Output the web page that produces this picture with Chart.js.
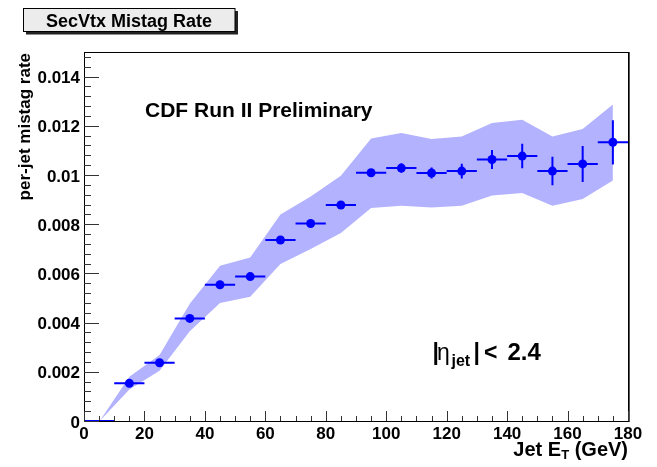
<!DOCTYPE html>
<html>
<head>
<meta charset="utf-8">
<script src="https://cdn.jsdelivr.net/npm/chart.js@4.4.1/dist/chart.umd.min.js"></script>
<style>
  html, body { margin: 0; padding: 0; background: #fff; }
  #wrap { width: 657px; height: 467px; }
</style>
</head>
<body>
<div id="wrap"><canvas id="c" width="657" height="467"></canvas></div>
<script>
// Jet E_T bin centres (GeV), each bin 10 GeV wide
const binCenters = [5, 15, 25, 35, 45, 55, 65, 75, 85, 95, 105, 115, 125, 135, 145, 155, 165, 175];
// measured per-jet mistag rate and its statistical error
const mistagRate = [0, 0.00153, 0.00237, 0.00417, 0.00554, 0.00587, 0.00736, 0.00803, 0.00878,
                    0.01009, 0.01028, 0.01008, 0.01016, 0.01063, 0.01077, 0.01016, 0.01045, 0.01133];
const rateError  = [0, 0.00005, 0.00006, 0.00007, 0.00007, 0.00008, 0.00008, 0.00009, 0.00010,
                    0.00012, 0.00019, 0.00022, 0.00030, 0.00039, 0.00050, 0.00058, 0.00073, 0.00090];
const binHalfWidth = 5;

// systematic uncertainty band
const bandX  = [5.2, 15, 25, 35, 45, 55, 65, 75, 85, 95, 105, 115, 125, 135, 145, 155, 165, 175];
const bandHi = [0, 0.00180, 0.00268, 0.00477, 0.00631, 0.00665, 0.00839, 0.00913, 0.00997,
                0.01148, 0.01171, 0.01146, 0.01157, 0.01211, 0.01225, 0.01157, 0.01187, 0.01287];
const bandLo = [0, 0.00128, 0.00204, 0.00365, 0.00480, 0.00505, 0.00638, 0.00699, 0.00764,
                0.00866, 0.00875, 0.00868, 0.00875, 0.00917, 0.00927, 0.00875, 0.00902, 0.00978];

// axis ticks
const xTicks = [0, 20, 40, 60, 80, 100, 120, 140, 160, 180];
const yTicks = [0, 0.002, 0.004, 0.006, 0.008, 0.01, 0.012, 0.014];
const yTickLabels = ['0', '0.002', '0.004', '0.006', '0.008', '0.01', '0.012', '0.014'];

const FONT = '"Liberation Sans", Arial, Helvetica, sans-serif';
const BLUE = '#0000ff';
const BAND = 'rgb(178,178,255)';

const toXY = (xs, ys) => xs.map((x, i) => ({ x: x, y: ys[i] }));

// error bars, frame and inward tick marks
const histDecor = {
  id: 'histDecor',
  afterDatasetsDraw(chart) {
    const ctx = chart.ctx;
    const xs = chart.scales.x, ys = chart.scales.y;
    const a = chart.chartArea;
    ctx.save();
    // error bars
    ctx.strokeStyle = BLUE;
    ctx.lineWidth = 2;
    binCenters.forEach((c, i) => {
      const py = ys.getPixelForValue(mistagRate[i]);
      ctx.beginPath();
      ctx.moveTo(xs.getPixelForValue(c - binHalfWidth), py);
      ctx.lineTo(xs.getPixelForValue(c + binHalfWidth), py);
      if (rateError[i] > 0) {
        const px = xs.getPixelForValue(c);
        ctx.moveTo(px, ys.getPixelForValue(mistagRate[i] - rateError[i]));
        ctx.lineTo(px, ys.getPixelForValue(mistagRate[i] + rateError[i]));
      }
      ctx.stroke();
    });
    // frame
    ctx.strokeStyle = '#000';
    ctx.lineWidth = 1;
    ctx.strokeRect(Math.round(a.left) + 0.5, Math.round(a.top) + 0.5,
                   Math.round(a.right - a.left), Math.round(a.bottom - a.top));
    ctx.strokeStyle = '#555';
    ctx.beginPath();
    ctx.moveTo(Math.round(a.right) + 1.5, a.top);
    ctx.lineTo(Math.round(a.right) + 1.5, a.bottom + 1);
    ctx.stroke();
    // ticks
    ctx.strokeStyle = '#333';
    ctx.beginPath();
    for (let v = 0; v <= 180 + 1e-9; v += 5) {
      const px = Math.round(xs.getPixelForValue(v)) + 0.5;
      const len = (Math.abs(v % 20) < 1e-9) ? 10 : 5;
      ctx.moveTo(px, a.bottom);
      ctx.lineTo(px, a.bottom - len);
    }
    for (let k = 0; k <= 37; k++) {
      const v = k * 0.0004;
      const py = Math.round(ys.getPixelForValue(v)) + 0.5;
      const len = (k % 5 === 0) ? 15 : 7;
      ctx.moveTo(a.left, py);
      ctx.lineTo(a.left + len, py);
    }
    ctx.stroke();
    ctx.restore();
  },
  afterDraw(chart) {
    const ctx = chart.ctx;
    ctx.save();
    // title box with shadow
    ctx.fillStyle = '#222';
    ctx.fillRect(26, 11, 212, 23.5);
    ctx.fillStyle = '#ececec';
    ctx.fillRect(23.5, 8.5, 211.5, 23);
    ctx.strokeStyle = '#000';
    ctx.lineWidth = 1;
    ctx.strokeRect(23.5, 8.5, 211.5, 23);
    ctx.fillStyle = '#000';
    ctx.font = 'bold 18px ' + FONT;
    ctx.textAlign = 'center';
    ctx.textBaseline = 'alphabetic';
    ctx.fillText('SecVtx Mistag Rate', 129, 26.5);

    // experiment label
    ctx.textAlign = 'left';
    ctx.font = 'bold 21px ' + FONT;
    ctx.fillText('CDF Run II Preliminary', 145, 116.5);

    // pseudorapidity cut
    const base = 360;
    ctx.font = 'bold 23px ' + FONT;
    ctx.fillText('|', 432.5, base);
    ctx.font = '23px ' + FONT;
    ctx.fillText('η', 437, base);
    ctx.font = 'bold 16px ' + FONT;
    ctx.fillText('jet', 451.5, base + 6);
    ctx.font = 'bold 23px ' + FONT;
    ctx.fillText('|', 473.5, base);
    ctx.fillText('<', 484, base);
    ctx.font = 'bold 24px ' + FONT;
    ctx.fillText('2.4', 507.5, base);

    // x-axis title, right aligned to the frame
    const right = chart.chartArea.right;
    ctx.font = 'bold 20px ' + FONT;
    const wTail = ctx.measureText(' (GeV)').width;
    const wHead = ctx.measureText('Jet E').width;
    ctx.font = 'bold 13px ' + FONT;
    const wSub = ctx.measureText('T').width;
    let tx = right - wTail - wSub - wHead;
    ctx.font = 'bold 20px ' + FONT;
    ctx.fillText('Jet E', tx, 456); tx += wHead;
    ctx.font = 'bold 13px ' + FONT;
    ctx.fillText('T', tx, 459); tx += wSub;
    ctx.font = 'bold 20px ' + FONT;
    ctx.fillText(' (GeV)', tx, 456);

    // y-axis title, rotated, aligned to top of frame
    ctx.translate(30, chart.chartArea.top + 1);
    ctx.rotate(-Math.PI / 2);
    ctx.textAlign = 'right';
    ctx.font = 'bold 17px ' + FONT;
    ctx.fillText('per-jet mistag rate', 0, 0);
    ctx.restore();
  }
};

new Chart(document.getElementById('c'), {
  type: 'scatter',
  data: {
    datasets: [
      {
        label: 'mistag rate',
        data: toXY(binCenters, mistagRate),
        showLine: false,
        pointRadius: binCenters.map((c, i) => (mistagRate[i] > 0 ? 4.5 : 0)),
        pointBackgroundColor: BLUE,
        pointBorderColor: BLUE,
        pointBorderWidth: 0
      },
      {
        label: 'band upper',
        data: toXY(bandX, bandHi),
        showLine: true,
        borderWidth: 0,
        borderColor: 'rgba(0,0,0,0)',
        backgroundColor: BAND,
        pointRadius: 0,
        tension: 0,
        fill: '+1'
      },
      {
        label: 'band lower',
        data: toXY(bandX, bandLo),
        showLine: true,
        borderWidth: 0,
        borderColor: 'rgba(0,0,0,0)',
        pointRadius: 0,
        tension: 0,
        fill: false
      }
    ]
  },
  options: {
    responsive: false,
    devicePixelRatio: 1,
    animation: false,
    layout: { padding: { left: 0, right: 29, top: 52, bottom: 0 } },
    plugins: {
      legend: { display: false },
      tooltip: { enabled: false },
      title: { display: false }
    },
    scales: {
      x: {
        type: 'linear',
        min: 0,
        max: 180,
        grid: { display: false, drawTicks: false },
        border: { display: false },
        afterBuildTicks: (s) => { s.ticks = xTicks.map(v => ({ value: v })); },
        afterFit: (s) => { s.height = 46; },
        ticks: {
          padding: 3,
          maxRotation: 0,
          autoSkip: false,
          color: '#000',
          font: { family: FONT, size: 17, weight: 'bold' },
          callback: (v) => String(v)
        }
      },
      y: {
        type: 'linear',
        min: 0,
        max: 0.015,
        grid: { display: false, drawTicks: false },
        border: { display: false },
        afterBuildTicks: (s) => { s.ticks = yTicks.map(v => ({ value: v })); },
        afterFit: (s) => { s.width = 84; },
        ticks: {
          padding: 4,
          labelOffset: 2,
          autoSkip: false,
          color: '#000',
          font: { family: FONT, size: 17, weight: 'bold' },
          callback: (v) => {
            const i = yTicks.findIndex(t => Math.abs(t - v) < 1e-9);
            return i >= 0 ? yTickLabels[i] : '';
          }
        }
      }
    }
  },
  plugins: [histDecor]
});
</script>
</body>
</html>
